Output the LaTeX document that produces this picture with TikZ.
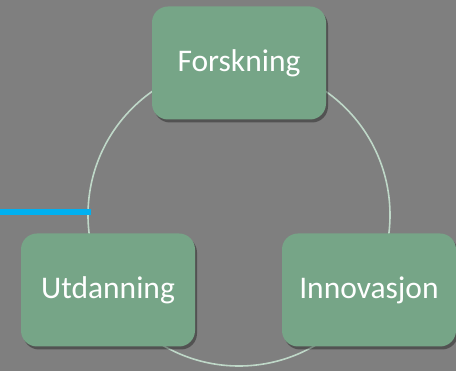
\documentclass[tikz,border=0pt]{standalone}
\usepackage{xcolor}
\usepackage{fontspec}
\setmainfont{Carlito}
\usepackage{tikz}
\usetikzlibrary{shapes, arrows.meta, positioning, shadows}

\definecolor{bakgrunn}{HTML}{7F7F7F}
\definecolor{boksgroenn}{HTML}{76A587}
\definecolor{ringfarge}{HTML}{BFD8C8}
\definecolor{linjeblaa}{HTML}{00B0F0}

\begin{document}
\begin{tikzpicture}[x=1pt, y=-1pt,
        boks/.style={rectangle, rounded corners=16pt, fill=boksgroenn, text=white,
            minimum width=174pt, minimum height=113pt, inner sep=0pt,
            font=\fontsize{31.5}{38}\selectfont,
            drop shadow={shadow xshift=2pt, shadow yshift=-3pt, opacity=0.35, fill=black}},
        ring/.style={draw=ringfarge, line width=1.6pt}]
    % bakgrunn
    \fill[bakgrunn] (0,0) rectangle (456,371);
    \useasboundingbox (0,0) rectangle (456,371);

    % sirkel bak boksene
    \coordinate (sentrum) at (239,215);
    \draw[ring] (sentrum) circle[radius=151pt];

    % blaa linje inn mot sirkelen
    \coordinate (venstre) at (0,212);
    \coordinate (sirkelvest) at (91,212);
    \draw[linjeblaa, line width=6pt] (venstre) -- (sirkelvest);

    % boksene
    \node[boks] (forskning) at (239,63) {\raisebox{-2pt}{Forskning}};
    \node[boks] (utdanning) at (108,290) {\raisebox{-2pt}{Utdanning}};
    \node[boks] (innovasjon) at (369,290) {\raisebox{-2pt}{Innovasjon}};
\end{tikzpicture}
\end{document}
